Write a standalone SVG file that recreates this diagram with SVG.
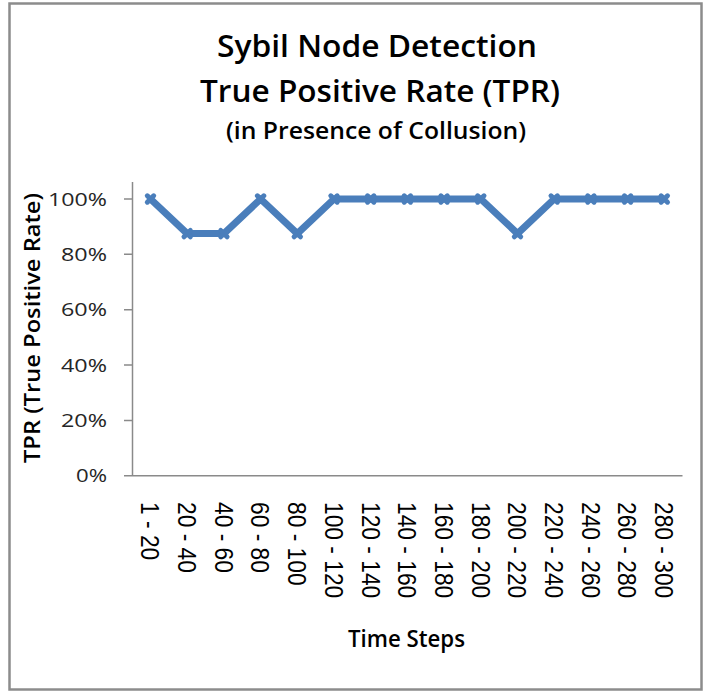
<svg xmlns="http://www.w3.org/2000/svg" width="709" height="695" viewBox="0 0 709 695">
  <style>
    .ttl { font-family: "Open Sans", "Liberation Sans", sans-serif; font-weight: 600; fill: #000; text-anchor: middle; }
    .ytk { font-family: "Open Sans", "Liberation Sans", sans-serif; font-size: 19px; fill: #262626; text-anchor: end; }
    .xtk { font-family: "Liberation Sans", Arial, sans-serif; font-size: 22.8px; fill: #000; }
    .axis { stroke: #8a8a8a; stroke-width: 1.5; fill: none; }
  </style>
  <defs>
    <marker id="mx" markerUnits="userSpaceOnUse" markerWidth="16" markerHeight="16" refX="8" refY="8" viewBox="0 0 16 16" overflow="visible">
      <path d="M4.8,4.8 L11.2,11.2 M11.2,4.8 L4.8,11.2" stroke="#4A7EBB" stroke-width="5" stroke-linecap="round"/>
    </marker>
  </defs>
  <rect x="0" y="0" width="709" height="695" fill="#fff"/>
  <rect id="frame" x="9.5" y="3.5" width="692" height="686" fill="#fff" stroke="#8c8c8c" stroke-width="2.5"/>

  <g id="title">
    <text class="ttl" x="377" y="57" font-size="30" textLength="320" lengthAdjust="spacingAndGlyphs">Sybil Node Detection</text>
    <text class="ttl" x="380" y="102" font-size="30" textLength="360" lengthAdjust="spacingAndGlyphs">True Positive Rate (TPR)</text>
    <text class="ttl" x="376" y="139" font-size="23" textLength="300" lengthAdjust="spacingAndGlyphs">(in Presence of Collusion)</text>
  </g>

  <g id="axes">
    <path class="axis" d="M132.5,182 V475.7 M124,475.7 H682.5"/>
    <path class="axis" d="M124,199 H132.5 M124,254.3 H132.5 M124,309.7 H132.5 M124,365 H132.5 M124,420.4 H132.5"/>
  </g>

  <g id="y-ticks">
    <text class="ytk" x="107" y="205.5" textLength="59" lengthAdjust="spacingAndGlyphs">100%</text>
    <text class="ytk" x="107" y="260.8" textLength="46" lengthAdjust="spacingAndGlyphs">80%</text>
    <text class="ytk" x="107" y="316.2" textLength="46" lengthAdjust="spacingAndGlyphs">60%</text>
    <text class="ytk" x="107" y="371.5" textLength="46" lengthAdjust="spacingAndGlyphs">40%</text>
    <text class="ytk" x="107" y="426.9" textLength="46" lengthAdjust="spacingAndGlyphs">20%</text>
    <text class="ytk" x="107" y="482.2" textLength="31" lengthAdjust="spacingAndGlyphs">0%</text>
  </g>

  <g id="y-title">
    <text class="ttl" transform="translate(40,328) rotate(-90)" font-size="21" textLength="270" lengthAdjust="spacingAndGlyphs">TPR (True Positive Rate)</text>
  </g>

  <g id="series">
    <polyline fill="none" stroke="#4A7EBB" stroke-width="7" stroke-linejoin="round"
      marker-start="url(#mx)" marker-mid="url(#mx)" marker-end="url(#mx)"
      points="150.5,199 187.2,233.6 223.9,233.6 260.6,199 297.3,233.6 334,199 370.7,199 407.4,199 444.1,199 480.8,199 517.5,233.6 554.2,199 590.9,199 627.6,199 664.3,199"/>
  </g>

  <g id="x-ticks">
    <text class="xtk" transform="translate(141.3,502) rotate(90) scale(1,1.12)">1 - 20</text>
    <text class="xtk" transform="translate(178,502) rotate(90) scale(1,1.12)">20 - 40</text>
    <text class="xtk" transform="translate(214.7,502) rotate(90) scale(1,1.12)">40 - 60</text>
    <text class="xtk" transform="translate(251.4,502) rotate(90) scale(1,1.12)">60 - 80</text>
    <text class="xtk" transform="translate(288.1,502) rotate(90) scale(1,1.12)">80 - 100</text>
    <text class="xtk" transform="translate(324.8,502) rotate(90) scale(1,1.12)">100 - 120</text>
    <text class="xtk" transform="translate(361.5,502) rotate(90) scale(1,1.12)">120 - 140</text>
    <text class="xtk" transform="translate(398.2,502) rotate(90) scale(1,1.12)">140 - 160</text>
    <text class="xtk" transform="translate(434.9,502) rotate(90) scale(1,1.12)">160 - 180</text>
    <text class="xtk" transform="translate(471.6,502) rotate(90) scale(1,1.12)">180 - 200</text>
    <text class="xtk" transform="translate(508.3,502) rotate(90) scale(1,1.12)">200 - 220</text>
    <text class="xtk" transform="translate(545,502) rotate(90) scale(1,1.12)">220 - 240</text>
    <text class="xtk" transform="translate(581.7,502) rotate(90) scale(1,1.12)">240 - 260</text>
    <text class="xtk" transform="translate(618.4,502) rotate(90) scale(1,1.12)">260 - 280</text>
    <text class="xtk" transform="translate(655.1,502) rotate(90) scale(1,1.12)">280 - 300</text>
  </g>

  <g id="x-title">
    <text class="ttl" x="406.5" y="647" font-size="23" textLength="117" lengthAdjust="spacingAndGlyphs">Time Steps</text>
  </g>
</svg>
